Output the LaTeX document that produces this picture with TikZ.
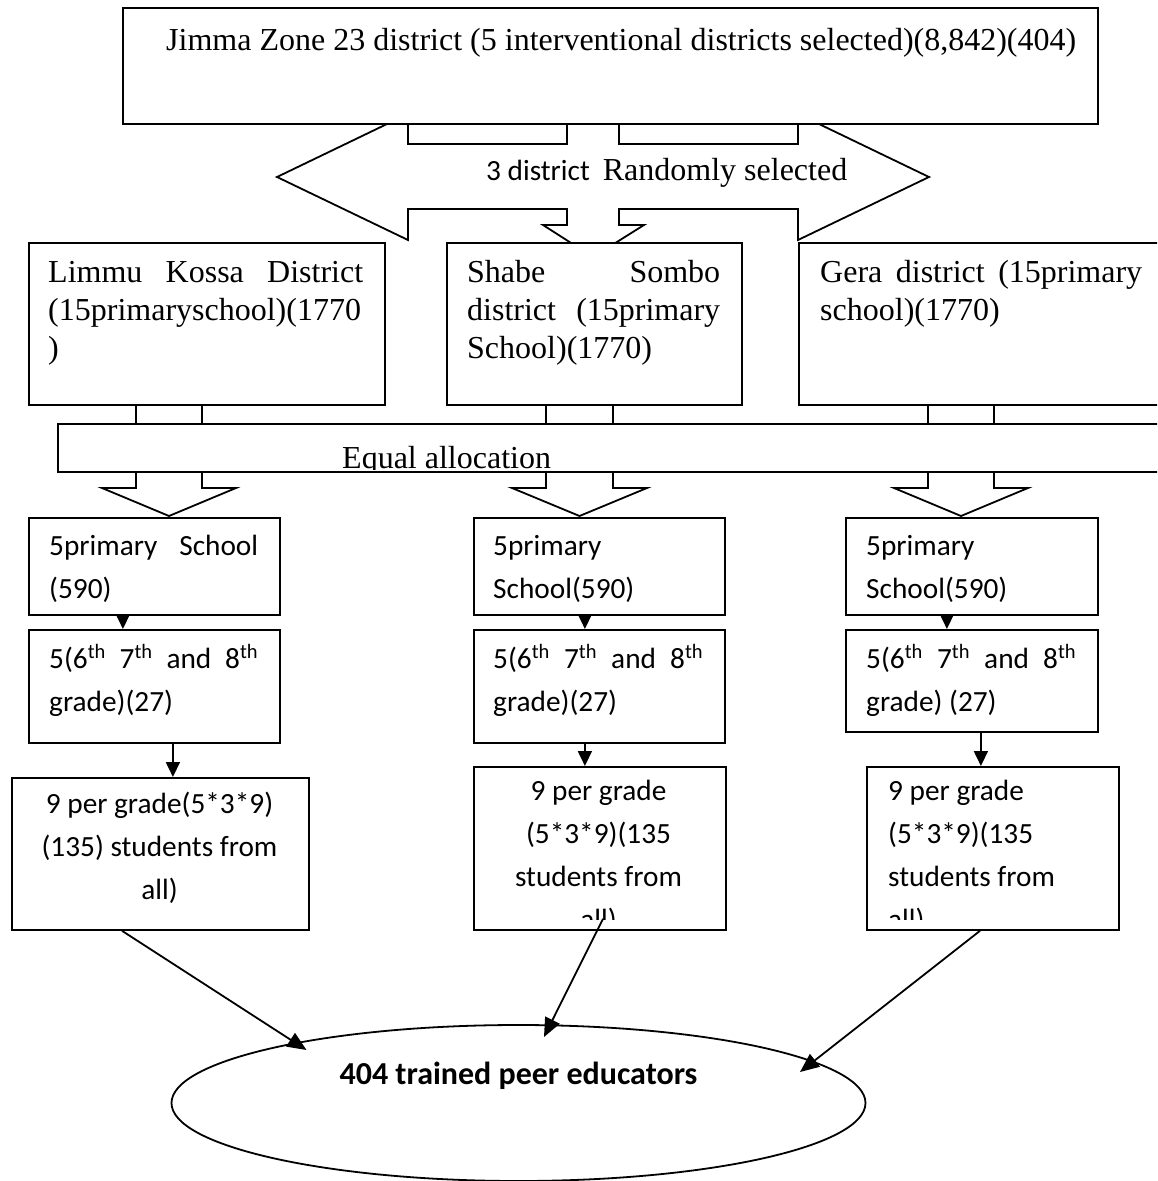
\documentclass[tikz,border=0pt]{standalone}
\usepackage{fontspec}
\setmainfont{Liberation Serif}
\newfontfamily\calibri{Carlito}
\usetikzlibrary{arrows.meta,shapes.geometric}

\newcommand{\tnr}{\fontsize{32}{38}\selectfont}
\newcommand{\calf}{\calibri\fontsize{29.3}{43}\selectfont}
\newcommand{\calb}{\calibri\bfseries\fontsize{32}{38}\selectfont}
\newcommand{\jline}[2]{\makebox[#1][s]{#2}}

\begin{document}
\begin{tikzpicture}[x=1pt,y=-1pt,
    box/.style={draw, line width=1.8pt, fill=white, inner sep=0pt, anchor=north west},
    txt/.style={inner sep=0pt, anchor=base west},
    shp/.style={line width=1.8pt, line join=miter},
    arr/.style={line width=1.8pt, -{Triangle[length=15pt,width=14pt]}},
    big/.style={line width=1.8pt, -{Triangle[length=19pt,width=16pt]}}]
\clip (0,0) rectangle (1157,1181);

% block arrow under the zone box
\draw[shp] (387,124) -- (277,177) -- (408,240) -- (408,209) -- (567,209) -- (567,225)
  -- (543,225) -- (593,257) -- (644,225) -- (619,225) -- (619,209) -- (798,209)
  -- (798,240) -- (929,177) -- (819,124);
\draw[shp] (408,124) -- (408,144) -- (567,144) -- (567,124)
  (619,124) -- (619,144) -- (798,144) -- (798,124);
\node[txt] (rand) at (486,180) {{\calf 3 district}\hspace{13pt}{\tnr Randomly selected}};

% zone
\node[box, minimum width=975pt, minimum height=116pt] (zone) at (122,7) {};
\node[txt, font=\tnr] (zone-t) at (166,50) {Jimma Zone 23 district (5 interventional districts selected)(8,842)(404)};

% districts
\node[box, minimum width=356pt, minimum height=162pt] (limmu) at (28,242) {};
\node[box, minimum width=295pt, minimum height=162pt] (shabe) at (446,242) {};
\node[box, minimum width=365pt, minimum height=162pt] (gera) at (798,242) {};
\node[txt, font=\tnr] (limmu-t) at (48,282) {\parbox[t]{316pt}{\jline{315pt}{Limmu Kossa District}\\(15primaryschool)(1770\\)}};
\node[txt, font=\tnr] (shabe-t) at (467,282) {\parbox[t]{254pt}{\jline{253pt}{Shabe Sombo}\\\jline{253pt}{district (15primary}\\School)(1770)}};
\node[txt, font=\tnr] (gera-t) at (820,282) {\parbox[t]{323pt}{\jline{322pt}{Gera district (15primary}\\school)(1770)}};

% allocation band
\foreach \a/\b in {136/202,546/613,928/994}{
  \draw[shp] (\a,404) -- (\a,423) (\b,404) -- (\b,423);
  \draw[shp] (\a,471) -- (\a,488) -- (\a-34,488) -- ({(\a+\b)/2},516) -- (\b+34,488) -- (\b,488) -- (\b,471);
}
\node[box, minimum width=1113pt, minimum height=48pt] (alloc) at (57,423) {};
\begin{scope}
  \clip (alloc.north west) rectangle ([yshift=3pt]alloc.south east);
  \node[txt, font=\tnr] (alloc-t) at (342,468) {Equal allocation};
\end{scope}

% schools
\node[box, minimum width=251pt, minimum height=97pt] (l1) at (28,517) {};
\node[box, minimum width=251pt, minimum height=97pt] (m1) at (473,517) {};
\node[box, minimum width=252pt, minimum height=97pt] (r1) at (845,517) {};
\node[txt, font=\calf] (l1-t) at (49,555) {\parbox[t]{210pt}{\jline{209pt}{5primary School}\\(590)}};
\node[txt, font=\calf] (m1-t) at (493,555) {\parbox[t]{210pt}{5primary\\School(590)}};
\node[txt, font=\calf] (r1-t) at (866,555) {\parbox[t]{210pt}{5primary\\School(590)}};

% grades
\node[box, minimum width=251pt, minimum height=113pt] (l2) at (28,629) {};
\node[box, minimum width=251pt, minimum height=113pt] (m2) at (473,629) {};
\node[box, minimum width=252pt, minimum height=102pt] (r2) at (845,629) {};
\node[txt, font=\calf] (l2-t) at (49,668) {\parbox[t]{210pt}{\jline{209pt}{5(6\textsuperscript{th} 7\textsuperscript{th} and 8\textsuperscript{th}}\\grade)(27)}};
\node[txt, font=\calf] (m2-t) at (493,668) {\parbox[t]{211pt}{\jline{210pt}{5(6\textsuperscript{th} 7\textsuperscript{th} and 8\textsuperscript{th}}\\grade)(27)}};
\node[txt, font=\calf] (r2-t) at (866,668) {\parbox[t]{211pt}{\jline{210pt}{5(6\textsuperscript{th} 7\textsuperscript{th} and 8\textsuperscript{th}}\\grade) (27)}};

% students
\node[box, minimum width=297pt, minimum height=152pt] (l3) at (11,777) {};
\node[box, minimum width=252pt, minimum height=163pt] (m3) at (473,766) {};
\node[box, minimum width=252pt, minimum height=163pt] (r3) at (866,766) {};
\node[font=\calf, inner sep=0pt, anchor=base] (l3-t) at (159.5,813) {\parbox[t]{290pt}{\centering 9 per grade(5*3*9)\\(135) students from\\all)}};
\begin{scope}
  \clip (m3.north west) rectangle ([yshift=11pt]m3.south east);
  \node[font=\calf, inner sep=0pt, anchor=base] (m3-t) at (598.5,800) {\parbox[t]{240pt}{\centering 9 per grade\\(5*3*9)(135\\students from\\all)}};
\end{scope}
\begin{scope}
  \clip (r3.north west) rectangle ([yshift=11pt]r3.south east);
  \node[txt, font=\calf] (r3-t) at (888,800) {\parbox[t]{220pt}{9 per grade\\(5*3*9)(135\\students from\\all)}};
\end{scope}

\draw[arr] ([xshift=-31.5pt]l1.south) -- ([xshift=-31.5pt]l2.north);
\draw[arr] ([xshift=-14.5pt]m1.south) -- ([xshift=-14.5pt]m2.north);
\draw[arr] ([xshift=-25pt]r1.south) -- ([xshift=-25pt]r2.north);
\draw[arr] ([xshift=18.5pt]l2.south) -- ([xshift=12.5pt]l3.north);
\draw[arr] ([xshift=-14.5pt]m2.south) -- ([xshift=-15pt]m3.north);
\draw[arr] ([xshift=9pt]r2.south) -- ([xshift=-12pt]r3.north);

% trained peer educators
\node[draw, ellipse, line width=1.8pt, minimum width=694pt, minimum height=156pt, inner sep=0pt] (peer) at (518.5,1103) {};
\node[font=\calb, inner sep=0pt, anchor=base] (peer-t) at (518.5,1084) {404 trained peer educators};

\draw[big] ([xshift=111pt]l3.south west) -- ([shift={(-212pt,53pt)}]peer.center);
\draw[big] ([shift={(130pt,12pt)}]m3.south west) -- ([shift={(25.5pt,66pt)}]peer.center);
\draw[big] ([xshift=114pt]r3.south west) -- ([shift={(281.5pt,31pt)}]peer.center);
\end{tikzpicture}
\end{document}
